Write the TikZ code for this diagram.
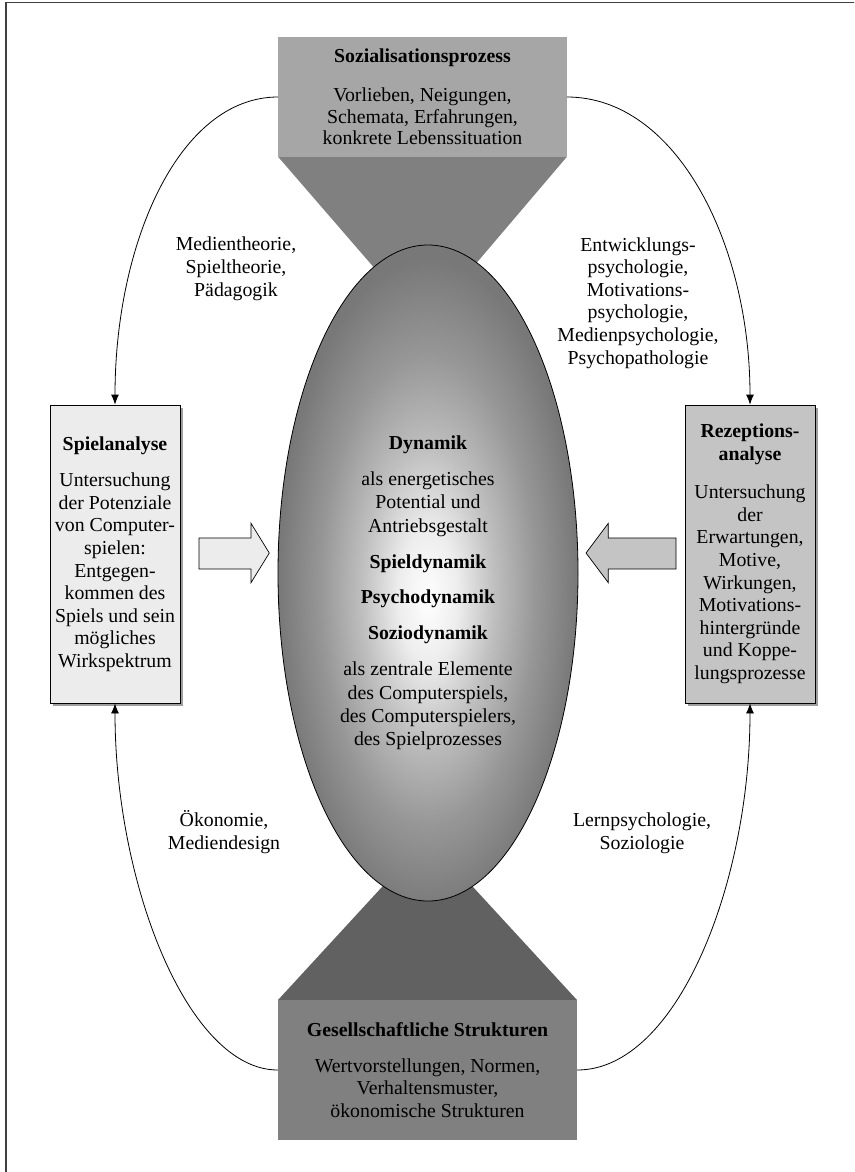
\documentclass[tikz,border=0pt]{standalone}
\usepackage{fontspec}
\setmainfont{Liberation Serif}
\usetikzlibrary{arrows.meta,shapes.geometric,shadows}

\definecolor{sozfill}{gray}{0.65}
\definecolor{funneltop}{gray}{0.50}
\definecolor{funnelbot}{gray}{0.38}
\definecolor{gesfill}{gray}{0.50}
\definecolor{spielfill}{gray}{0.925}
\definecolor{rezfill}{gray}{0.77}
\definecolor{framecol}{gray}{0.25}

% radial light in the middle of the dynamics ellipse
\pgfdeclareradialshading{dynshade}{\pgfpoint{0bp}{-2bp}}{%
  color(0bp)=(white);
  color(5bp)=(white!93!black);
  color(11bp)=(white!75!black);
  color(18bp)=(white!59!black);
  color(25bp)=(white!47!black);
  color(50bp)=(white!47!black)}

\begin{document}
\begin{tikzpicture}[x=1pt,y=-1pt,
  txt/.style={font=\fontsize{19.8}{22.6}\selectfont, align=center, text=black, inner sep=0pt},
  sidebox/.style={txt, draw=black, line width=0.8pt, minimum width=130pt, minimum height=298pt,
    inner sep=2pt, drop shadow={shadow xshift=3pt, shadow yshift=-3pt, fill=black!38, opacity=1}},
  bigbox/.style={txt, minimum height=120pt},
  blockarrow/.style={draw=black, line width=0.7pt},
  conn/.style={draw=black, line width=0.8pt, -{Latex[length=10pt,width=8pt]}},
  lbl/.style={txt}
]
\useasboundingbox (0,0) rectangle (854,1172);
\clip (0,0) rectangle (854,1172);

% outer frame
\draw[framecol, line width=1.6pt] (6,1190) -- (6,2.5) -- (870,2.5);

% funnels behind the ellipse
\fill[funneltop] (278.3,157) -- (566.7,157) -- (445,300) -- (402,300) -- cycle;
\fill[funnelbot] (278,1000) -- (577,1000) -- (439,850) -- (416,850) -- cycle;

% top and bottom boxes
\node[bigbox, fill=sozfill, minimum width=288.4pt, minimum height=120pt,
      font=\fontsize{19.8}{21.5}\selectfont] (soz) at (422.5,97)
  {\textbf{Sozialisationsprozess}\\[17.5pt]
   Vorlieben, Neigungen,\\ Schemata, Erfahrungen,\\ konkrete Lebenssituation};

\node[bigbox, fill=gesfill, minimum width=299pt, minimum height=140pt,
      font=\fontsize{19.8}{22.5}\selectfont] (ges) at (427.5,1070)
  {\textbf{Gesellschaftliche Strukturen}\\[13.2pt]
   Wertvorstellungen, Normen,\\ Verhaltensmuster,\\ ökonomische Strukturen};

% central ellipse
\node[ellipse, shade, shading=dynshade, draw=black, line width=0.8pt,
      minimum width=300pt, minimum height=656pt, inner sep=0pt] (dyn) at (428,573) {};
\node[txt, font=\fontsize{19.8}{23.3}\selectfont] (dyntext) at (428,593)
  {\textbf{Dynamik}\\[12.4pt]
   als energetisches\\ Potential und\\ Antriebsgestalt\\[12.7pt]
   \textbf{Spieldynamik}\\[12.4pt]
   \textbf{Psychodynamik}\\[12.7pt]
   \textbf{Soziodynamik}\\[12.7pt]
   als zentrale Elemente\\ des Computerspiels,\\ des Computerspielers,\\ des Spielprozesses};

% side boxes
\node[sidebox, fill=spielfill] (spiel) at (115,554)
  {\textbf{Spielanalyse}\\[14pt]
   Untersuchung\\ der Potenziale\\ von Computer-\\ spielen:\\ Entgegen-\\
   kommen des\\ Spiels und sein\\ mögliches\\ Wirkspektrum};

\node[sidebox, fill=rezfill] (rez) at (750,554)
  {\textbf{Rezeptions-}\\ \textbf{analyse}\\[15.6pt]
   Untersuchung\\ der\\ Erwartungen,\\ Motive,\\ Wirkungen,\\
   Motivations-\\ hintergründe\\ und Koppe-\\ lungsprozesse};

% block arrows towards the ellipse
\draw[blockarrow, fill=spielfill] (199,538) -- (251,538) -- (251,523.3) -- (269.3,553)
  -- (251,582.7) -- (251,569) -- (199,569) -- cycle;
\draw[blockarrow, fill=rezfill] (676,538) -- (608.3,538) -- (608.3,523.3) -- (586,553)
  -- (608.3,582.7) -- (608.3,569) -- (676,569) -- cycle;

% curved connectors
\draw[conn] (soz.west) .. controls +(-100,0) and +(0,-160) .. (spiel.north);
\draw[conn] (soz.east) .. controls +(110,0) and +(0,-160) .. (rez.north);
\draw[conn] (ges.west) .. controls +(-90,0) and +(0,180) .. (spiel.south);
\draw[conn] (ges.east) .. controls +(100,0) and +(0,180) .. (rez.south);

% discipline labels
\node[lbl] (lblTL) at (236,268.7) {Medientheorie,\\ Spieltheorie,\\ Pädagogik};
\node[lbl] (lblTR) at (638,302.9) {Entwicklungs-\\ psychologie,\\ Motivations-\\ psychologie,\\ Medienpsychologie,\\ Psychopathologie};
\node[lbl] (lblBL) at (224,832) {Ökonomie,\\ Mediendesign};
\node[lbl] (lblBR) at (642,833.4) {Lernpsychologie,\\ Soziologie};
\end{tikzpicture}
\end{document}
